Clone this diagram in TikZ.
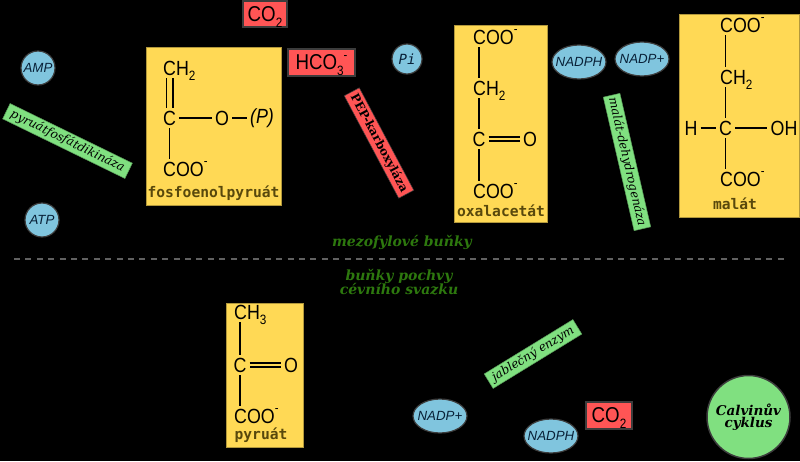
\documentclass[tikz,border=0pt]{standalone}
\usepackage{fontspec}
\setmainfont{Liberation Sans}
\newfontfamily\serifenz{DejaVu Serif}
\newfontfamily\monolabel{DejaVu Sans Mono}
\newfontfamily\molfont[FakeStretch=0.87]{Liberation Sans}
\usetikzlibrary{shapes.geometric,calc}
\definecolor{molYellow}{RGB}{255,217,85}
\definecolor{molLabel}{RGB}{88,72,12}
\definecolor{gasRed}{RGB}{255,85,85}
\definecolor{enzGreen}{RGB}{128,224,128}
\definecolor{cofBlue}{RGB}{128,197,222}
\definecolor{cofText}{RGB}{8,32,55}
\definecolor{edgeGray}{RGB}{60,60,60}
\definecolor{cellGreen}{RGB}{45,120,14}
\newcommand{\fs}[1]{\fontsize{#1}{#1}\selectfont}
\newcommand{\molsub}[1]{\smash{\raisebox{-0.28em}{\fs{13.5}#1}}}
\newcommand{\molsup}{\smash{\raisebox{0.5em}{\fs{13}-}}}
\tikzset{
  molbox/.style={draw=molYellow!70!black, fill=molYellow, line width=0.5pt, inner sep=0pt},
  atom/.style={font=\molfont\fs{20.5}, inner sep=1pt, text=black},
  bond/.style={line width=1.7pt, black, shorten <=2pt, shorten >=2pt},
  dbond/.style={bond, double=molYellow, double distance=2.8pt},
  mollabel/.style={font=\monolabel\bfseries\fs{14.6}, text=molLabel, inner sep=0pt},
  gasbox/.style={draw=edgeGray, fill=gasRed, line width=1.2pt, font=\molfont\fs{21.5}, text=black, inner sep=0pt},
  enzbox/.style={fill=enzGreen, draw=enzGreen!70!black, line width=0.5pt, font=\serifenz\itshape\fs{12}, text=black, inner sep=0pt, minimum height=17pt},
  cofactor/.style={ellipse, draw=edgeGray, fill=cofBlue, line width=1.2pt, font=\itshape\fs{13.3}, text=cofText, inner xsep=-8pt, inner ysep=0pt, minimum width=54pt, minimum height=34pt},
  cofcircle/.style={cofactor, circle, inner sep=-6pt, minimum size=34pt},
  celltext/.style={font=\serifenz\bfseries\itshape\fs{14}, text=cellGreen, align=center, inner sep=0pt}
}
\begin{document}
\begin{tikzpicture}[x=1pt,y=-1pt]
\useasboundingbox (0,0) rectangle (800,461);
\fill[black] (0,0) rectangle (800,461);
% yellow boxes
\node[molbox, minimum width=135pt, minimum height=158pt] (pepbox) at (213.5,126) {};
\node[molbox, minimum width=93pt, minimum height=197pt] (oaabox) at (500.5,123.5) {};
\node[molbox, minimum width=120pt, minimum height=203pt] (malbox) at (739,115.5) {};
\node[molbox, minimum width=77pt, minimum height=144pt] (pyrbox) at (264.5,375) {};
% fosfoenolpyruat
\node[atom, anchor=west] (pepch) at (162,68) {CH\molsub{2}};
\node[atom] (pepc) at (169.5,118) {C};
\node[atom] (pepo) at (222,118) {O};
\node[atom, font=\molfont\itshape\fs{20.5}] (pepp) at (262,118) {(P)};
\node[atom, anchor=west] (pepcoo) at (162,169) {COO\molsup};
\draw[dbond, double distance=4.6pt] (pepch.south -| pepc) -- (pepc);
\draw[bond] (pepc.east) -- (pepo.west);
\draw[bond] (pepo.east) -- (pepp.west);
\draw[bond] (pepc.south) -- (pepcoo.north -| pepc);
\node[mollabel] (peplab) at (213.5,193) {fosfoenolpyruát};
% oxalacetat
\node[atom, anchor=west] (oaacoo) at (472,37) {COO\molsup};
\node[atom, anchor=west] (oaach) at (472,88) {CH\molsub{2}};
\node[atom] (oaac) at (479,139) {C};
\node[atom] (oaao) at (530,139) {O};
\node[atom, anchor=west] (oaacoob) at (472,191) {COO\molsup};
\draw[bond] (oaacoo.south -| oaac) -- (oaach.north -| oaac);
\draw[bond] (oaach.south -| oaac) -- (oaac.north);
\draw[dbond] (oaac.east) -- (oaao.west);
\draw[bond] (oaac.south) -- (oaacoob.north -| oaac);
\node[mollabel] (oaalab) at (501,211) {oxalacetát};
% malat
\node[atom, anchor=west] (malcoo) at (719,25) {COO\molsup};
\node[atom, anchor=west] (malch) at (719,77) {CH\molsub{2}};
\node[atom] (malc) at (725.5,128) {C};
\node[atom] (malh) at (691,128) {H};
\node[atom] (maloh) at (784,128) {OH};
\node[atom, anchor=west] (malcoob) at (719,179) {COO\molsup};
\draw[bond] (malcoo.south -| malc) -- (malch.north -| malc);
\draw[bond] (malch.south -| malc) -- (malc.north);
\draw[bond] (malh.east) -- (malc.west);
\draw[bond] (malc.east) -- (maloh.west);
\draw[bond] (malc.south) -- (malcoob.north -| malc);
\node[mollabel] (mallab) at (735,204) {malát};
% pyruat
\node[atom, anchor=west] (pyrch) at (233,312) {CH\molsub{3}};
\node[atom] (pyrc) at (240,365) {C};
\node[atom] (pyro) at (291,365) {O};
\node[atom, anchor=west] (pyrcoo) at (233,416) {COO\molsup};
\draw[bond] (pyrch.south -| pyrc) -- (pyrc.north);
\draw[dbond] (pyrc.east) -- (pyro.west);
\draw[bond] (pyrc.south) -- (pyrcoo.north -| pyrc);
\node[mollabel] (pyrlab) at (261,435) {pyruát};
% CO2, HCO3
\node[gasbox, minimum width=44pt, minimum height=26pt] (cotop) at (265,14) {CO\molsub{2}};
\node[gasbox, minimum width=67pt, minimum height=27pt] (hco) at (321.5,62.5) {HCO\molsub{3}\molsup};
\node[gasbox, minimum width=46pt, minimum height=27pt] (cobot) at (609,415.5) {CO\molsub{2}};
% cofactors
\foreach \nm/\x/\y/\txt in {amp/38/68/AMP,atp/42/220/ATP}
  \node[cofcircle] (\nm) at (\x,\y) {\txt};
\node[cofcircle, minimum size=30pt, font=\monolabel\itshape\fs{14}] (pi) at (407,59) {Pi};
\foreach \nm/\x/\y/\txt in {nadph/579/62/NADPH,nadp/642/59/NADP+,nadpb/440/416/NADP+,nadphb/551/436/NADPH}
  \node[cofactor] (\nm) at (\x,\y) {\txt};
% enzymes
\node[enzbox, rotate=-26, minimum width=136pt] (ppdk) at (67.5,141) {pyruátfosfátdikináza};
\node[enzbox, rotate=-62, minimum width=116pt, fill=gasRed, draw=edgeGray, font=\serifenz\bfseries\fs{11.8}] (pepk) at (379,143) {PEP-karboxyláza};
\node[enzbox, rotate=-77, minimum width=137pt] (mdh) at (627,162) {malát-dehydrogenáza};
\node[enzbox, rotate=31.5, minimum width=104pt] (jabl) at (533,354) {jablečný enzym};
% rozhrani
\coordinate (ln1) at (14,259);
\coordinate (ln2) at (785,259);
\draw[line width=2pt, black!62, dash pattern=on 6pt off 5.4pt] (ln1) -- (ln2);
\node[celltext] (mezo) at (402,242) {mezofylové buňky};
\node[celltext] (poch) at (399,282) {buňky pochvy\\[-1pt]cévního svazku};
% Calvin
\node[circle, draw=edgeGray, fill=enzGreen, line width=1.5pt, minimum size=83pt, inner sep=0pt, align=center, font=\serifenz\bfseries\itshape\fs{13.5}, text=black] (calvin) at (748.5,417) {Calvinův\\[-2pt]cyklus};
\end{tikzpicture}
\end{document}
